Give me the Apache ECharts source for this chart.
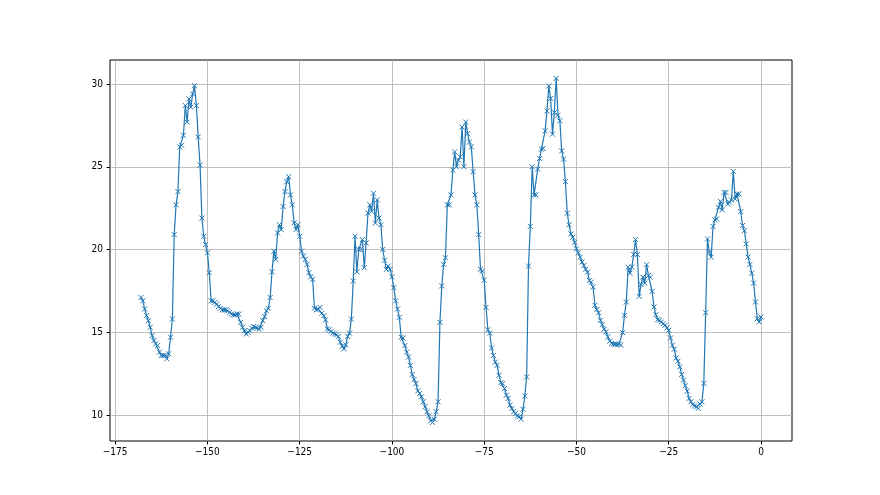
<!DOCTYPE html>
<html>
<head>
<meta charset="utf-8">
<script src="https://cdn.jsdelivr.net/npm/echarts@6/dist/echarts.min.js"></script>
<style>
    html, body { margin: 0; padding: 0; background: #fff; }
    #chart { width: 880px; height: 495px; }
</style>
</head>
<body>
<div id="chart"></div>
<script>
    // tick labels
    var xTicks = [-175, -150, -125, -100, -75, -50, -25, 0];
    var yTicks = [10, 15, 20, 25, 30];

    // readings every half hour, from hour -168 up to hour 0
    var startHour = -168;
    var stepHour = 0.5;

    var day1 = [ // -168 .. -148
        17.1, 16.9, 16.4, 16.0, 15.7, 15.3, 14.8, 14.5, 14.3, 14.2,
        13.8, 13.6, 13.6, 13.6, 13.4, 13.7, 14.7, 15.8, 20.9, 22.7,
        23.5, 26.2, 26.3, 26.9, 28.7, 27.7, 29.1, 28.6, 29.4, 29.9,
        28.7, 26.8, 25.1, 21.9, 20.8, 20.3, 19.8, 18.6, 16.9, 16.9,
        16.8
    ];
    var day2 = [ // -147.5 .. -127
        16.7, 16.55, 16.45, 16.35, 16.35, 16.35, 16.3, 16.2, 16.1, 16.05,
        16.05, 16.1, 16.1, 15.6, 15.3, 15.1, 14.9, 15.0, 15.1, 15.25,
        15.35, 15.3, 15.25, 15.2, 15.3, 15.7, 15.95, 16.3, 16.45, 17.1,
        18.65, 19.9, 19.4, 21.0, 21.5, 21.2, 22.6, 23.5, 24.1, 24.4,
        23.3, 22.7
    ];
    var day3 = [ // -126.5 .. -102.5
        21.6, 21.2, 21.5, 20.8, 19.9, 19.6, 19.4, 19.1, 18.6, 18.35,
        18.2, 16.45, 16.35, 16.4, 16.5, 16.15, 16.0, 15.75, 15.2, 15.15,
        15.05, 14.95, 14.9, 14.85, 14.75, 14.4, 14.15, 14.0, 14.25, 14.75,
        14.95, 15.8, 18.1, 20.8, 18.65, 20.0, 20.0, 20.6, 18.9, 20.4,
        22.2, 22.7, 22.3, 23.4, 21.6, 23.0, 21.9, 21.5, 20.0
    ];
    var day4 = [ // -102 .. -83
        19.35, 18.8, 19.0, 18.8, 18.35, 17.7, 16.9, 16.4, 15.9, 14.7,
        14.65, 14.2, 13.8, 13.5, 13.0, 12.45, 12.15, 11.9, 11.45, 11.3,
        11.1, 10.8, 10.5, 10.2, 9.95, 9.65, 9.55, 9.75, 10.2, 10.8,
        15.6, 17.8, 19.1, 19.5, 22.7, 22.7, 23.3, 24.8, 25.9
    ];
    var day5 = [ // -82.5 .. -61
        25.0, 25.4, 25.6, 27.4, 25.0, 27.7, 27.0, 26.5, 26.2, 24.7,
        23.3, 22.7, 20.9, 18.8, 18.7, 18.15, 16.5, 15.15, 14.95, 14.05,
        13.6, 13.2, 13.0, 12.4, 11.95, 11.9, 11.6, 11.2, 11.0, 10.6,
        10.4, 10.2, 10.1, 9.95, 9.9, 9.75, 10.35, 11.15, 12.3, 19.0,
        21.4, 25.0, 23.3, 23.3
    ];
    var day6 = [ // -60.5 .. -40.5
        24.86, 25.5, 26.06, 26.1, 27.17, 28.37, 29.88, 29.12, 26.97, 28.27,
        30.34, 28.11, 27.77, 25.96, 25.46, 24.1, 22.19, 21.49, 20.94, 20.74,
        20.44, 20.04, 19.8, 19.54, 19.24, 19.04, 18.8, 18.63, 18.13, 18.03,
        17.73, 16.63, 16.37, 16.18, 15.72, 15.46, 15.18, 15.02, 14.72, 14.46,
        14.32
    ];
    var day7 = [ // -40 .. -18
        14.28, 14.28, 14.26, 14.28, 14.22, 14.98, 16.02, 16.83, 18.94, 18.57,
        18.94, 19.7, 20.6, 19.7, 17.17, 17.89, 18.33, 17.97, 19.08, 18.43,
        18.33, 17.47, 16.53, 16.06, 15.76, 15.72, 15.62, 15.52, 15.42, 15.26,
        15.12, 14.66, 14.22, 13.98, 13.45, 13.25, 12.91, 12.45, 12.11, 11.77,
        11.45, 11.0, 10.8, 10.64, 10.55
    ];
    var day8 = [ // -17.5 .. 0
        10.5, 10.4, 10.66, 10.8, 11.91, 16.18, 20.64, 19.84, 19.54, 21.39,
        21.79, 21.85, 22.55, 22.91, 22.39, 23.45, 23.45, 22.75, 22.85, 22.99,
        24.72, 23.05, 23.35, 23.35, 22.29, 21.45, 21.14, 20.34, 19.54, 19.1,
        18.57, 17.97, 16.83, 15.82, 15.62, 15.92
    ];

    var values = [].concat(day1, day2, day3, day4, day5, day6, day7, day8);
    var points = values.map(function (v, i) {
        return [startHour + i * stepHour, v];
    });

    function minusSign(v) {
        return String(v).replace('-', '\u2212');
    }

    var labelFont = '"Liberation Sans Narrow", "DejaVu Sans Condensed", "Liberation Sans", sans-serif';

    var myChart = echarts.init(document.getElementById('chart'));
    var option = {
        animation: false,
        backgroundColor: '#fff',
        grid: {
            left: 110,
            right: 88,
            top: 60,
            bottom: 54,
            show: true,
            borderColor: '#000',
            borderWidth: 1,
            backgroundColor: 'transparent'
        },
        xAxis: {
            type: 'value',
            min: -176.4,
            max: 8.4,
            axisLine: { show: false, onZero: false },
            axisTick: {
                show: true,
                inside: false,
                length: 3.5,
                customValues: xTicks,
                lineStyle: { color: '#000', width: 1 }
            },
            axisLabel: {
                customValues: xTicks,
                color: '#000',
                fontSize: 10,
                fontFamily: labelFont,
                margin: 6,
                formatter: minusSign
            },
            splitLine: { show: true, lineStyle: { color: '#b0b0b0', width: 0.8 } }
        },
        yAxis: {
            type: 'value',
            min: 8.43,
            max: 31.45,
            axisLine: { show: false, onZero: false },
            axisTick: {
                show: true,
                inside: false,
                length: 3.5,
                customValues: yTicks,
                lineStyle: { color: '#000', width: 1 }
            },
            axisLabel: {
                customValues: yTicks,
                color: '#000',
                fontSize: 10,
                fontFamily: labelFont,
                margin: 7
            },
            splitLine: { show: true, lineStyle: { color: '#b0b0b0', width: 0.8 } }
        },
        series: [
            {
                type: 'line',
                data: points,
                showAllSymbol: true,
                symbol: 'path://M0,0L10,10M10,0L0,10',
                symbolSize: 5,
                lineStyle: { color: '#1f77b4', width: 1.2 },
                itemStyle: { color: '#1f77b4', borderColor: '#1f77b4', borderWidth: 1 },
                emphasis: { disabled: true }
            }
        ]
    };
    myChart.setOption(option);
</script>
</body>
</html>
